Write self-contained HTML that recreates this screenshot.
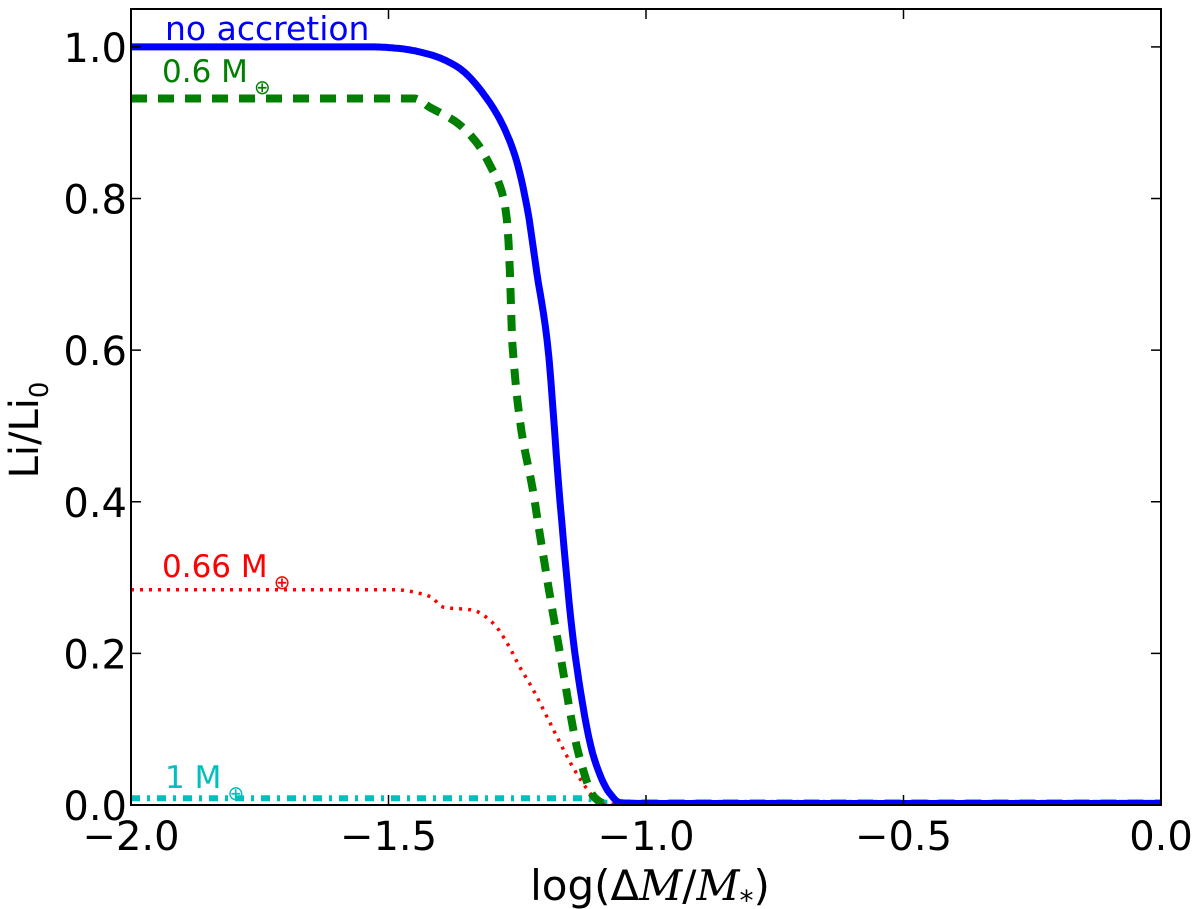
<!DOCTYPE html>
<html><head><meta charset="utf-8">
<style>
html,body{margin:0;padding:0;background:#fff;}
svg{display:block;font-family:"DejaVu Sans","Liberation Sans",sans-serif;}
</style></head>
<body>
<svg id="chart" width="1200" height="909" viewBox="0 0 1200 909">
  <g id="plot"></g>
  <g id="axes"></g>
  <text x="650" y="900" font-size="42" text-anchor="middle">log(Δ<tspan font-family="DejaVu Serif" font-style="italic">M</tspan>/<tspan font-family="DejaVu Serif" font-style="italic">M</tspan><tspan font-size="28" dy="10">*</tspan><tspan dy="-10">)</tspan></text>
  <text transform="translate(38,430) rotate(-90)" font-size="40" text-anchor="middle">Li/Li<tspan font-size="26" dy="10">0</tspan></text>
  <text x="165" y="40" font-size="33" fill="#0000ff">no accretion</text>
  <text x="162" y="82" font-size="31" fill="#007f00">0.6 M<tspan font-size="20" dy="12" dx="6">⊕</tspan></text>
  <text x="162" y="577" font-size="31" fill="#ff0000">0.66 M<tspan font-size="20" dy="12" dx="6">⊕</tspan></text>
  <text x="165" y="788" font-size="31" fill="#00bfbf">1 M<tspan font-size="20" dy="12" dx="6">⊕</tspan></text>
</svg>
<script>
const xTicks = [-2.0, -1.5, -1.0, -0.5, 0.0];
const xTickLabels = ["\u22122.0", "\u22121.5", "\u22121.0", "\u22120.5", "0.0"];
const yTicks = [0.0, 0.2, 0.4, 0.6, 0.8, 1.0];
const yTickLabels = ["0.0", "0.2", "0.4", "0.6", "0.8", "1.0"];

const blueX = [-2.0, -1.53, -1.48, -1.42, -1.367, -1.303, -1.258, -1.231, -1.212, -1.192, -1.167, -1.138, -1.10, -1.07, -1.05, -1.0, 0.0];
const blueY = [1.0, 1.0, 0.998, 0.99, 0.974, 0.926, 0.864, 0.789, 0.702, 0.613, 0.40, 0.20, 0.06, 0.015, 0.003, 0.002, 0.002];
const greenX = [-2.0, -1.45, -1.419, -1.367, -1.328, -1.303, -1.280, -1.270, -1.264, -1.26, -1.216, -1.167, -1.128, -1.10, -1.08, 0.0];
const greenY = [0.932, 0.932, 0.92, 0.90, 0.873, 0.844, 0.809, 0.772, 0.70, 0.613, 0.40, 0.20, 0.06, 0.01, 0.002, 0.002];
const redX = [-2.0, -1.491, -1.419, -1.394, -1.336, -1.297, -1.270, -1.245, -1.219, -1.192, -1.167, -1.142, -1.109, -1.089, 0.0];
const redY = [0.284, 0.284, 0.275, 0.261, 0.257, 0.240, 0.214, 0.182, 0.152, 0.116, 0.082, 0.05, 0.016, 0.001, 0.001];
const cyanX = [-2.0, -1.12, -1.08, 0.0];
const cyanY = [0.009, 0.009, 0.003, 0.003];

const L = 131, R = 1161, T = 9, B = 805;
const xMin = -2, xMax = 0, yMin = 0, yMax = 1.05;
const sx = v => L + (v - xMin) / (xMax - xMin) * (R - L);
const sy = v => B - (v - yMin) / (yMax - yMin) * (B - T);
const NS = "http://www.w3.org/2000/svg";
const plot = document.getElementById('plot');
const axes = document.getElementById('axes');

function mk(tag, attrs, parent) {
  const e = document.createElementNS(NS, tag);
  for (const k in attrs) e.setAttribute(k, attrs[k]);
  parent.appendChild(e);
  return e;
}

const clip = mk('clipPath', {id: 'clipArea'}, plot);
mk('rect', {x: L, y: T, width: R - L, height: B - T}, clip);

// monotone cubic (Fritsch-Carlson) interpolation, sampled densely
function monotonePath(xs, ys) {
  const n = xs.length;
  const dx = [], sl = [];
  for (let i = 0; i < n - 1; i++) { dx.push(xs[i + 1] - xs[i]); sl.push((ys[i + 1] - ys[i]) / dx[i]); }
  const m = new Array(n);
  m[0] = sl[0]; m[n - 1] = sl[n - 2];
  for (let i = 1; i < n - 1; i++) {
    if (sl[i - 1] * sl[i] <= 0) m[i] = 0;
    else {
      const w1 = 2 * dx[i] + dx[i - 1], w2 = dx[i] + 2 * dx[i - 1];
      m[i] = (w1 + w2) / (w1 / sl[i - 1] + w2 / sl[i]);
    }
  }
  let d = 'M' + sx(xs[0]).toFixed(1) + ',' + sy(ys[0]).toFixed(1);
  for (let i = 0; i < n - 1; i++) {
    const steps = Math.max(2, Math.ceil((sx(xs[i + 1]) - sx(xs[i])) / 2));
    for (let s = 1; s <= steps; s++) {
      const t = s / steps, h = dx[i];
      const t2 = t * t, t3 = t2 * t;
      const y = (2 * t3 - 3 * t2 + 1) * ys[i] + (t3 - 2 * t2 + t) * h * m[i] + (-2 * t3 + 3 * t2) * ys[i + 1] + (t3 - t2) * h * m[i + 1];
      d += ' L' + sx(xs[i] + t * h).toFixed(1) + ',' + sy(y).toFixed(1);
    }
  }
  return d;
}

function series(xs, ys, color, width, dash, name) {
  const p = mk('path', {d: monotonePath(xs, ys), fill: 'none', stroke: color, 'stroke-width': width, 'stroke-dasharray': dash, 'stroke-linejoin': 'round', 'clip-path': 'url(#clipArea)'}, plot);
  
  
}
series(cyanX, cyanY, '#00bfbf', 6, '9 7 3 7', 'series-1-earth-mass');
series(redX, redY, '#ff0000', 3.5, '3 6', 'series-0.66-earth-mass');
series(greenX, greenY, '#007f00', 8, '16 11', 'series-0.6-earth-mass');
series(blueX, blueY, '#0000ff', 7, 'none', 'series-no-accretion');

const frame = mk('rect', {x: L, y: T, width: R - L, height: B - T, fill: 'none', stroke: '#000', 'stroke-width': 2}, axes);



xTicks.forEach((v, i) => {
  const x = sx(v);
  mk('line', {x1: x, y1: B, x2: x, y2: B - 10, stroke: '#000', 'stroke-width': 1.5}, axes);
  mk('line', {x1: x, y1: T, x2: x, y2: T + 10, stroke: '#000', 'stroke-width': 1.5}, axes);
  const t = mk('text', {x: x, y: B + 45, 'font-size': 40, 'text-anchor': 'middle'}, axes);
  t.textContent = xTickLabels[i];
  
  
});
yTicks.forEach((v, i) => {
  const y = sy(v);
  mk('line', {x1: L, y1: y, x2: L + 10, y2: y, stroke: '#000', 'stroke-width': 1.5}, axes);
  mk('line', {x1: R, y1: y, x2: R - 10, y2: y, stroke: '#000', 'stroke-width': 1.5}, axes);
  const t = mk('text', {x: L - 4, y: y + 15, 'font-size': 40, 'text-anchor': 'end'}, axes);
  t.textContent = yTickLabels[i];
  
  
});
</script>
</body></html>
